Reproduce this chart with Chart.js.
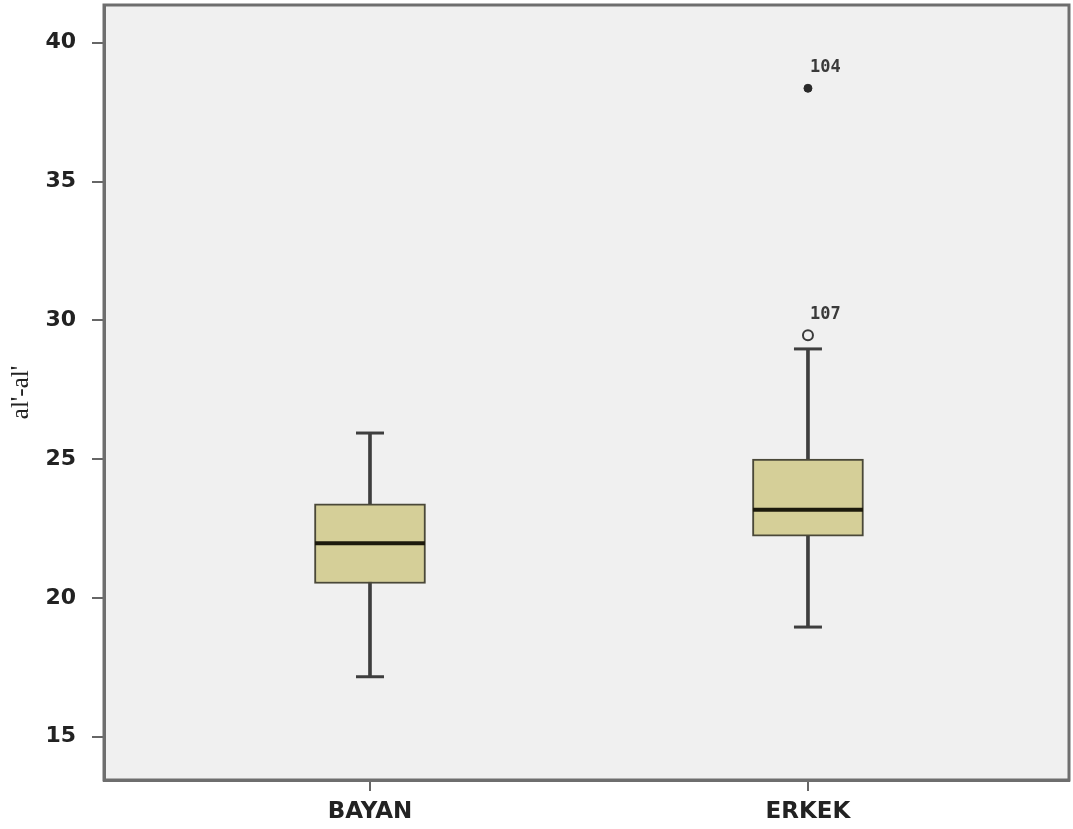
<!DOCTYPE html>
<html>
<head>
<meta charset="utf-8">
<script src="https://cdn.jsdelivr.net/npm/chart.js@4.4.1/dist/chart.umd.min.js"></script>
<style>
html,body{margin:0;padding:0;background:#ffffff;}
#wrap{width:1073px;height:829px;position:relative;}
</style>
</head>
<body>
<div id="wrap"><canvas id="c" width="1073" height="829"></canvas></div>
<script>
// ---- data ----
const categories = ['BAYAN', 'ERKEK'];
const categoryPos = [1, 2];
const lowWhisker = [17.16, 18.95];
const q1 = [20.52, 22.22];
const median = [21.97, 23.18];
const q3 = [23.39, 25.0];
const highWhisker = [25.94, 28.97];
// outliers (SPSS: circle = outlier, star = extreme)
const outlierCat = [2];
const outlierVal = [29.46];
const outlierLbl = ['107'];
const extremeCat = [2];
const extremeVal = [38.36];
const extremeLbl = ['104'];
const yTicks = [15, 20, 25, 30, 35, 40];
const yTitle = "al'-al'";

// ---- styles ----
const boxFill = '#d5cf98';
const boxLine = '#4a4838';
const whiskerCol = '#3e3e3e';

const labelPlugin = {
  id: 'frameAndLabels',
  beforeDraw(chart) {
    const {ctx, chartArea: a} = chart;
    ctx.save();
    ctx.fillStyle = '#f0f0f0';
    ctx.fillRect(a.left, a.top, a.right - a.left, a.bottom - a.top);
    ctx.restore();
  },
  afterDraw(chart) {
    const {ctx, chartArea: a, scales} = chart;
    ctx.save();
    ctx.strokeStyle = '#6e6e6e';
    ctx.lineWidth = 3;
    ctx.strokeRect(a.left, a.top, a.right - a.left, a.bottom - a.top);
    ctx.fillStyle = '#3a3a3a';
    ctx.font = 'bold 17px "DejaVu Sans Mono"';
    ctx.textAlign = 'left';
    ctx.textBaseline = 'middle';
    const lab = (cats, vals, lbls) => {
      for (let i = 0; i < vals.length; i++) {
        const x = scales.x.getPixelForValue(cats[i]);
        const y = scales.y.getPixelForValue(vals[i]);
        ctx.fillText(lbls[i], x + 2, y - 21);
      }
    };
    lab(outlierCat, outlierVal, outlierLbl);
    lab(extremeCat, extremeVal, extremeLbl);
    ctx.restore();
  }
};

const caps = [];
categoryPos.forEach((p, i) => { caps.push({x: p, y: lowWhisker[i]}); caps.push({x: p, y: highWhisker[i]}); });

new Chart(document.getElementById('c'), {
  type: 'bar',
  data: {
    datasets: [
      {
        type: 'scatter', label: 'extreme', order: 0,
        data: extremeCat.map((c, i) => ({x: c, y: extremeVal[i]})),
        pointStyle: 'circle', pointRadius: 4, backgroundColor: '#2a2a2a', borderColor: '#2a2a2a', borderWidth: 1
      },
      {
        type: 'scatter', label: 'outlier', order: 0,
        data: outlierCat.map((c, i) => ({x: c, y: outlierVal[i]})),
        pointStyle: 'circle', pointRadius: 5, backgroundColor: '#f0f0f0', borderColor: '#3a3a3a', borderWidth: 2
      },
      {
        type: 'scatter', label: 'median', order: 0,
        data: categoryPos.map((p, i) => ({x: p, y: median[i]})),
        pointStyle: 'line', pointRadius: 55, borderColor: '#1c1a0c', borderWidth: 4
      },
      {
        type: 'scatter', label: 'caps', order: 0,
        data: caps,
        pointStyle: 'line', pointRadius: 14, borderColor: whiskerCol, borderWidth: 3
      },
      {
        type: 'bar', label: 'box', order: 1, grouped: false,
        data: categoryPos.map((p, i) => ({x: p, y: [q1[i], q3[i]]})),
        backgroundColor: boxFill, borderColor: boxLine, borderWidth: 2, borderSkipped: false,
        barThickness: 111
      },
      {
        type: 'bar', label: 'whisker', order: 2, grouped: false,
        data: categoryPos.map((p, i) => ({x: p, y: [lowWhisker[i], highWhisker[i]]})),
        backgroundColor: whiskerCol, borderWidth: 0,
        barThickness: 3
      }
    ]
  },
  options: {
    responsive: false,
    animation: false,
    events: [],
    layout: {autoPadding: false, padding: {left: 0, top: 5, right: 4, bottom: 0}},
    plugins: {legend: {display: false}, tooltip: {enabled: false}},
    scales: {
      x: {
        type: 'linear',
        min: 0.3927, max: 2.596,
        offset: false,
        afterBuildTicks(s) { s.ticks = categoryPos.map(v => ({value: v})); },
        afterFit(s) { s.height = 49; s.paddingLeft = 0; s.paddingRight = 0; },
        ticks: {
          callback: (v) => categories[categoryPos.indexOf(v)],
          font: {family: 'DejaVu Sans', size: 23, weight: 'bold'},
          color: '#222', padding: 7, maxRotation: 0, autoSkip: false
        },
        grid: {display: true, drawOnChartArea: false, drawTicks: true, tickLength: 11, color: '#666', lineWidth: 2, offset: false},
        border: {display: true, color: '#6e6e6e', width: 3}
      },
      y: {
        type: 'linear',
        min: 13.44, max: 41.36,
        afterBuildTicks(s) { s.ticks = yTicks.map(v => ({value: v})); },
        afterFit(s) { s.width = 104; s.paddingTop = 0; s.paddingBottom = 0; },
        ticks: {
          font: {family: 'DejaVu Sans', size: 22, weight: 'bold'},
          color: '#222', padding: 16
        },
        grid: {display: true, drawOnChartArea: false, drawTicks: true, tickLength: 12, color: '#666', lineWidth: 2},
        border: {display: true, color: '#6e6e6e', width: 3},
        title: {
          display: true, text: yTitle,
          font: {family: 'Liberation Serif', size: 25},
          color: '#222', padding: {top: 6, bottom: 0}
        }
      }
    }
  },
  plugins: [labelPlugin]
});
</script>
</body>
</html>
